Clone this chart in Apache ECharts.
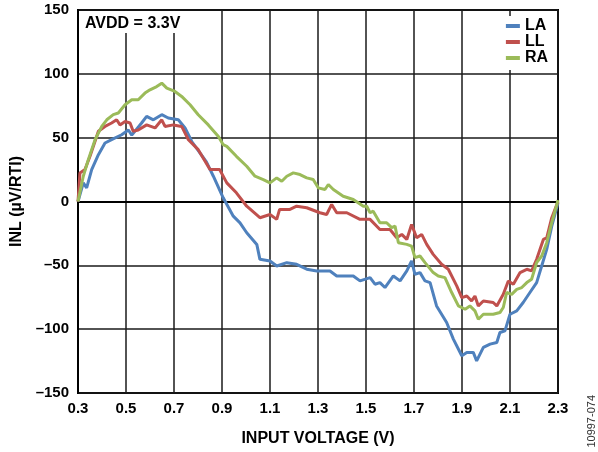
<!DOCTYPE html>
<html>
<head>
<meta charset="utf-8">
<script src="https://cdn.jsdelivr.net/npm/echarts@6/dist/echarts.min.js"></script>
<style>
  html, body { margin: 0; padding: 0; background: #fff; }
  #chart { width: 598px; height: 452px; }
</style>
</head>
<body>
<div id="chart"></div>
<script>
// series names and colours
var seriesNames = ['LA', 'LL', 'RA'];
var seriesColors = ['#4f81bd', '#c0504d', '#9bbb59'];

// LA (input voltage, INL)
var vLA = [0.3, 0.322, 0.336, 0.357, 0.385, 0.4125, 0.44, 0.482, 0.51, 0.524, 0.565, 0.586, 0.614, 0.649, 0.676, 0.718, 0.746, 0.774, 0.808, 0.835, 0.864, 0.905, 0.947, 0.975, 1.003, 1.045, 1.058, 1.1, 1.128, 1.17, 1.211, 1.253, 1.295, 1.35, 1.378, 1.447, 1.475, 1.517, 1.5375, 1.558, 1.579, 1.614, 1.642, 1.67, 1.69, 1.704, 1.725, 1.746, 1.767, 1.794, 1.836, 1.864, 1.899, 1.92, 1.947, 1.961, 1.989, 2.017, 2.045, 2.058, 2.079, 2.1, 2.128, 2.155, 2.183, 2.211, 2.232, 2.253, 2.274, 2.3];
var inlLA = [0, 14.6, 10.7, 25, 36.7, 45.8, 48.4, 52.3, 56, 52, 61.5, 66.7, 64, 68, 65.4, 64, 57.6, 47, 38, 31, 19.8, 2.9, -11.5, -16.7, -24.5, -33.6, -45.3, -46.6, -50.5, -47.9, -49.2, -53, -54.4, -54.4, -58.3, -58.3, -62.2, -59.6, -64.8, -63.5, -67.4, -58.3, -62.2, -54.4, -46.6, -57, -55.7, -62.2, -63.5, -81.8, -94.8, -107.8, -120.8, -118.2, -118.2, -124.8, -114.3, -111.7, -110.4, -102.6, -101.3, -88.3, -85.7, -79.1, -71.3, -63.5, -50.5, -37.5, -19.3, -1];

// LL
var vLL = [0.3, 0.308, 0.329, 0.35, 0.385, 0.4125, 0.44, 0.461, 0.475, 0.496, 0.517, 0.53, 0.551, 0.586, 0.621, 0.649, 0.6625, 0.697, 0.732, 0.76, 0.801, 0.85, 0.89, 0.92, 0.96, 1.003, 1.058, 1.1, 1.128, 1.14, 1.183, 1.211, 1.253, 1.308, 1.336, 1.357, 1.378, 1.42, 1.475, 1.517, 1.558, 1.6, 1.628, 1.649, 1.67, 1.69, 1.711, 1.732, 1.753, 1.78, 1.815, 1.843, 1.878, 1.899, 1.92, 1.94, 1.954, 1.968, 1.989, 2.03, 2.045, 2.072, 2.093, 2.114, 2.142, 2.17, 2.19, 2.211, 2.239, 2.253, 2.274, 2.3];
var inlLL = [0, 22.4, 25, 35.4, 55, 58.8, 61.5, 64, 60, 62.7, 61.5, 55, 56, 60, 57.6, 64, 58.8, 60, 58.8, 48.4, 40.6, 25, 25, 14.6, 6.8, -3.7, -12.7, -10.2, -14, -6.2, -6.2, -3.7, -4.9, -8.8, -10.2, -2.3, -8.8, -8.8, -14, -14, -21.9, -21.9, -28.4, -25.8, -29.7, -18, -28.4, -25.8, -33.6, -41.4, -49.2, -53.1, -66.1, -75.3, -74, -77.9, -74, -81.8, -77.9, -79.1, -81.8, -72.7, -62.2, -64.8, -55.7, -53.1, -54.4, -45.3, -29.7, -28.4, -12.7, 0];

// RA
var vRA = [0.3, 0.322, 0.343, 0.371, 0.399, 0.42, 0.447, 0.468, 0.496, 0.524, 0.551, 0.579, 0.6, 0.628, 0.649, 0.67, 0.704, 0.732, 0.767, 0.801, 0.843, 0.885, 0.905, 0.92, 0.96, 1.003, 1.0375, 1.072, 1.1, 1.128, 1.149, 1.17, 1.197, 1.225, 1.253, 1.28, 1.301, 1.329, 1.343, 1.364, 1.405, 1.447, 1.489, 1.503, 1.517, 1.53, 1.558, 1.586, 1.607, 1.621, 1.635, 1.67, 1.69, 1.704, 1.725, 1.746, 1.78, 1.801, 1.829, 1.857, 1.885, 1.913, 1.933, 1.954, 1.968, 1.989, 2.03, 2.058, 2.072, 2.086, 2.107, 2.128, 2.149, 2.17, 2.19, 2.211, 2.232, 2.253, 2.274, 2.3];
var inlRA = [0, 19.8, 32.8, 48.4, 58.8, 64, 68, 69.3, 75.8, 79.7, 79.7, 84.9, 87.5, 90, 92.7, 88.8, 86.2, 82.3, 75.8, 68, 60, 51, 44.5, 43.2, 35.4, 27.6, 19.8, 17.2, 14.6, 18.5, 15.9, 19.8, 22.4, 21.1, 18.5, 17.2, 10.7, 9.4, 13.3, 9.4, 4.1, 1.6, -3.7, -3.7, -8.8, -7.6, -16.6, -16.6, -20.5, -19.3, -32.3, -33.6, -34.9, -44, -42.7, -47.9, -55.7, -58.3, -59.6, -71.3, -81.8, -84.4, -81.8, -85.7, -92.2, -88.3, -88.3, -87, -83, -71.3, -72.7, -68.8, -67.4, -63.5, -60.9, -47.9, -42.7, -32.3, -16.6, 1];

// axis ranges
var xTicks = { min: 0.3, max: 2.3, step: 0.2 };
var yTicks = { min: -150, max: 150, step: 50 };

var xs = [vLA, vLL, vRA];
var ys = [inlLA, inlLL, inlRA];

var font = 'Arial, "Liberation Sans", sans-serif';

var series = seriesNames.map(function (name, i) {
    return {
        name: name,
        type: 'line',
        showSymbol: false,
        color: seriesColors[i],
        lineStyle: { width: 3, color: seriesColors[i] },
        data: xs[i].map(function (v, j) { return [v, ys[i][j]]; })
    };
});

var chart = echarts.init(document.getElementById('chart'));
chart.setOption({
    animation: false,
    backgroundColor: '#fff',
    grid: {
        left: 78, right: 40, top: 10, bottom: 58,
        show: true, borderColor: '#000', borderWidth: 2
    },
    legend: {
        data: seriesNames,
        orient: 'vertical',
        right: 48, top: 16,
        icon: 'rect',
        itemWidth: 14, itemHeight: 4, itemGap: 0,
        backgroundColor: '#fff',
        padding: [2, 2, 4, 3],
        textStyle: { fontFamily: font, fontWeight: 'bold', fontSize: 16, lineHeight: 16, color: '#000', padding: [0, 0, 0, 0] }
    },
    xAxis: {
        type: 'value',
        min: xTicks.min, max: xTicks.max, interval: xTicks.step,
        name: 'INPUT VOLTAGE (V)',
        nameLocation: 'middle', nameGap: 38,
        nameTextStyle: { fontFamily: font, fontWeight: 'bold', fontSize: 16, color: '#000' },
        axisLine: { show: true, lineStyle: { color: '#000', width: 2 } },
        axisTick: { show: false },
        axisLabel: {
            fontFamily: font, fontWeight: 'bold', fontSize: 15, color: '#000', margin: 8,
            formatter: function (v) { return v.toFixed(1); }
        },
        splitLine: { show: true, lineStyle: { color: '#1a1a1a', width: 1.5 } }
    },
    yAxis: {
        type: 'value',
        min: yTicks.min, max: yTicks.max, interval: yTicks.step,
        name: 'INL (µV/RTI)',
        nameLocation: 'middle', nameGap: 48,
        nameTextStyle: { fontFamily: font, fontWeight: 'bold', fontSize: 16, color: '#000' },
        axisLine: { show: true, lineStyle: { color: '#000', width: 2 } },
        axisTick: { show: false },
        axisLabel: {
            fontFamily: font, fontWeight: 'bold', fontSize: 15, color: '#000', margin: 9,
            formatter: function (v) { return v < 0 ? '\u2013' + Math.abs(v) : String(v); }
        },
        splitLine: { show: true, lineStyle: { color: '#1a1a1a', width: 1.5 } }
    },
    graphic: [
        {
            type: 'rect', left: 80, top: 11, z: 50,
            shape: { width: 104, height: 22 },
            style: { fill: '#fff' }
        },
        {
            type: 'text', left: 85, top: 16, z: 51,
            style: { text: 'AVDD = 3.3V', fill: '#000', font: 'bold 16px ' + font }
        },
        {
            type: 'text', left: 586, top: 395, rotation: Math.PI / 2, z: 51,
            style: { text: '10997-074', fill: '#333', font: '11px ' + font }
        }
    ],
    series: series
});
</script>
</body>
</html>
